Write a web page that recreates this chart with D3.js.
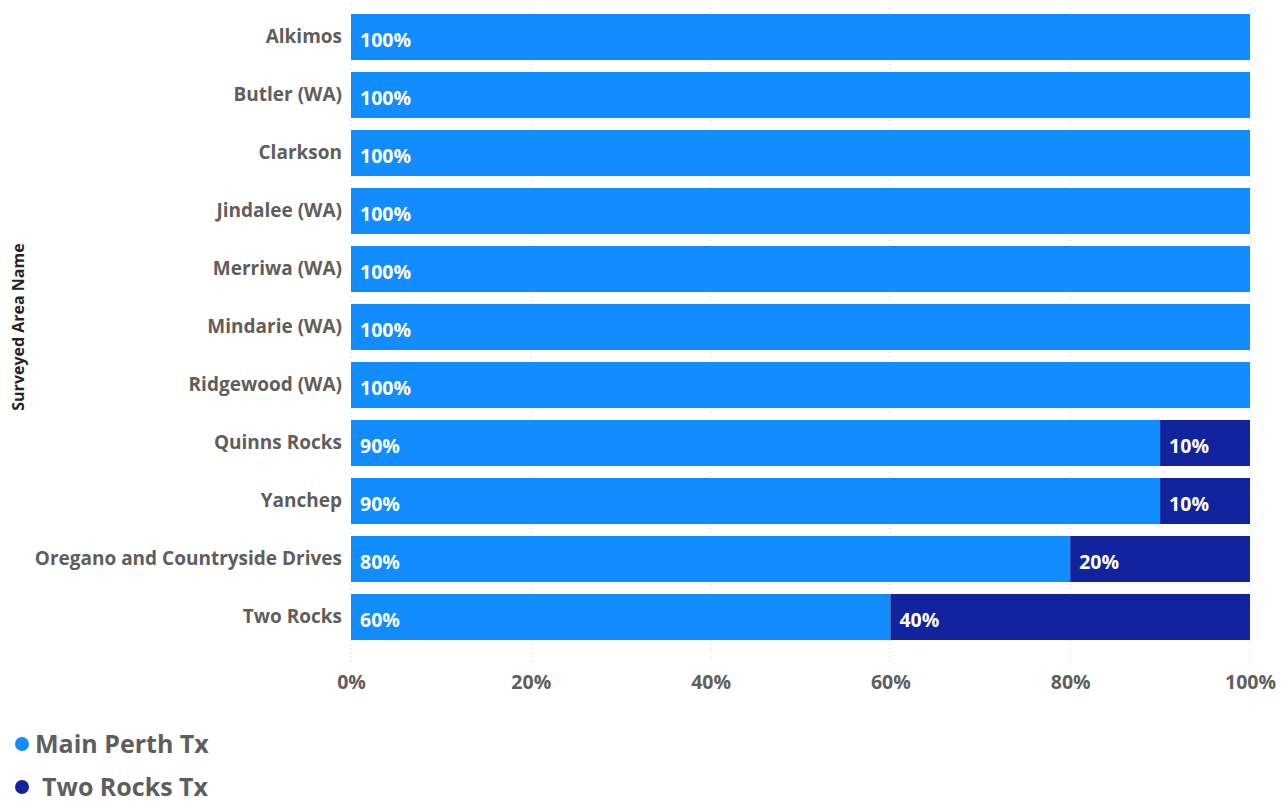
<!DOCTYPE html>
<html>
<head>
<meta charset="utf-8">
<script src="https://cdn.jsdelivr.net/npm/d3@7"></script>
<style>
  body { margin: 0; background: #fff; }
  text { font-family: "Open Sans", "Noto Sans", sans-serif; }
</style>
</head>
<body>
<script>
// data
var areas = ["Alkimos", "Butler (WA)", "Clarkson", "Jindalee (WA)", "Merriwa (WA)",
  "Mindarie (WA)", "Ridgewood (WA)", "Quinns Rocks", "Yanchep",
  "Oregano and Countryside Drives", "Two Rocks"];
var mainPerth = [1, 1, 1, 1, 1, 1, 1, 0.9, 0.9, 0.8, 0.6];
var twoRocks = [0, 0, 0, 0, 0, 0, 0, 0.1, 0.1, 0.2, 0.4];
var seriesNames = ["Main Perth Tx", "Two Rocks Tx"];
var seriesColors = ["#118DFF", "#12239E"];
var xTicks = [0, 0.2, 0.4, 0.6, 0.8, 1];

var svg = d3.select("body").append("svg")
  .attr("width", 1288)
  .attr("height", 802);

var x = d3.scaleLinear().domain([0, 1]).range([351, 1250]);
var y = d3.scaleBand().domain(areas).range([8, 646])
  .paddingInner(0.2069).paddingOuter(0.1034);

// dotted grid lines
svg.append("g").selectAll("line")
  .data(xTicks)
  .join("line")
  .attr("x1", d => x(d)).attr("x2", d => x(d))
  .attr("y1", 4).attr("y2", 664)
  .attr("stroke", "#d9d9d9")
  .attr("stroke-dasharray", "1,3");

// stacked rows
var rows = areas.map((a, i) => ({ area: a, vals: [mainPerth[i], twoRocks[i]] }));

var g = svg.append("g");
rows.forEach(function (r) {
  var start = 0;
  r.vals.forEach(function (v, k) {
    if (v > 0) {
      g.append("rect")
        .attr("x", x(start))
        .attr("y", y(r.area))
        .attr("width", x(start + v) - x(start))
        .attr("height", y.bandwidth())
        .attr("fill", seriesColors[k]);
      g.append("text")
        .attr("x", x(start) + 9)
        .attr("y", y(r.area) + y.bandwidth() / 2 + 10)
        .attr("fill", "#fff")
        .attr("font-size", 19.5)
        .attr("font-weight", "bold")
        .text(d3.format(".0%")(v));
    }
    start += v;
  });
});

// category labels
var yAxis = svg.append("g")
  .attr("transform", "translate(351,0)")
  .call(d3.axisLeft(y).tickSize(0).tickPadding(9));
yAxis.select(".domain").remove();
yAxis.selectAll("text")
  .attr("font-family", "Open Sans, sans-serif")
  .attr("font-size", 19)
  .attr("font-weight", "bold")
  .attr("fill", "#605E5C");

// x axis labels
var xAxis = svg.append("g")
  .attr("transform", "translate(0,671)")
  .call(d3.axisBottom(x).tickValues(xTicks).tickFormat(d3.format(".0%")).tickSize(0).tickPadding(4));
xAxis.select(".domain").remove();
xAxis.selectAll("text")
  .attr("font-family", "Open Sans, sans-serif")
  .attr("font-size", 19.5)
  .attr("font-weight", "bold")
  .attr("fill", "#605E5C");

// axis title
svg.append("text")
  .attr("transform", "translate(24,327) rotate(-90)")
  .attr("text-anchor", "middle")
  .attr("font-size", 16)
  .attr("font-weight", "bold")
  .attr("fill", "#252423")
  .text("Surveyed Area Name");

// legend
var legend = svg.append("g").selectAll("g")
  .data(seriesNames)
  .join("g")
  .attr("transform", (d, i) => "translate(22," + (744 + i * 43) + ")");
legend.append("circle")
  .attr("r", 7)
  .attr("fill", (d, i) => seriesColors[i]);
legend.append("text")
  .attr("x", (d, i) => i == 0 ? 13 : 20)
  .attr("y", 9)
  .attr("font-size", 25)
  .attr("font-weight", "bold")
  .attr("fill", "#605E5C")
  .text(d => d);
</script>
</body>
</html>
